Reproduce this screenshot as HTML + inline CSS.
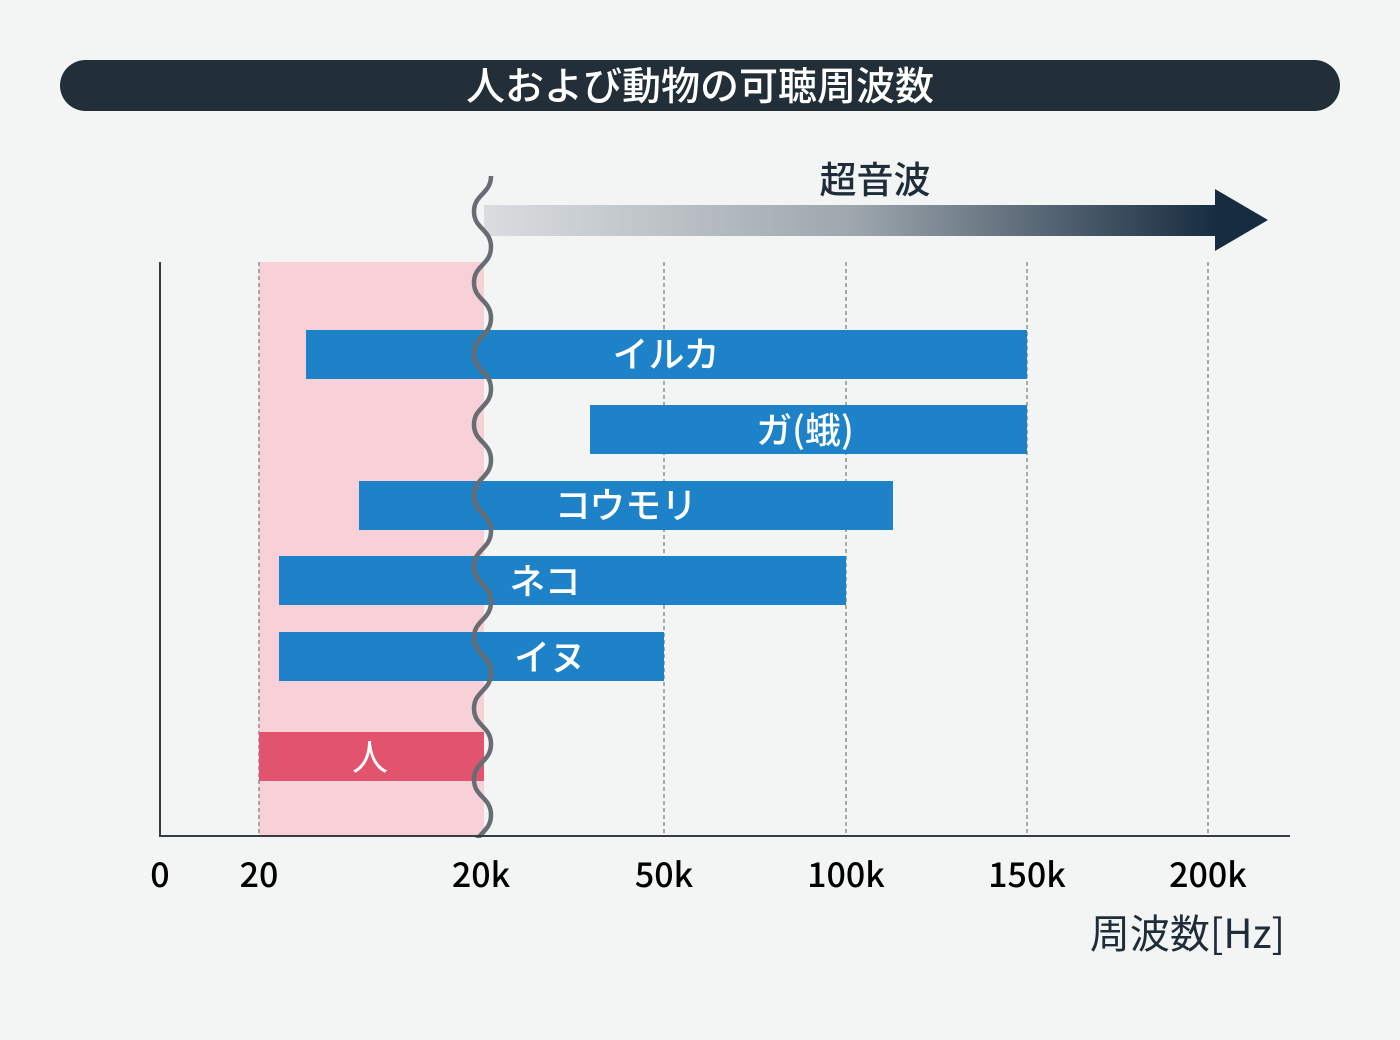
<!DOCTYPE html>
<html><head><meta charset="utf-8"><style>
body{margin:0;background:#f3f5f4;}
svg{display:block}
text{font-family:"Noto Sans CJK JP","Liberation Sans",sans-serif;}
</style></head><body>
<svg width="1400" height="1040" viewBox="0 0 1400 1040">
<defs>
<linearGradient id="g" x1="0" x2="1" y1="0" y2="0">
<stop offset="0" stop-color="#dadddf"/><stop offset="0.5" stop-color="#9ea7ae"/><stop offset="1" stop-color="#172c40"/>
</linearGradient>
<clipPath id="c"><rect x="440" y="176" width="100" height="662"/></clipPath>
</defs>
<rect width="1400" height="1040" fill="#f3f5f4"/>
<rect x="60" y="60" width="1280" height="51" rx="25.5" fill="#222f38"/>
<text x="700" y="100" text-anchor="middle" font-size="39" font-weight="500" fill="#fff">人および動物の可聴周波数</text>
<text x="875" y="193" text-anchor="middle" font-size="37" font-weight="500" fill="#1f2d3a">超音波</text>
<rect x="484" y="205" width="734" height="31" fill="url(#g)"/>
<polygon points="1215,189 1268,220 1215,251" fill="#172c40"/>
<rect x="259" y="262" width="225" height="574" fill="#f7d0d8"/>
<g stroke="#777" stroke-width="1.2" stroke-dasharray="4,3">
<line x1="259" y1="262" x2="259" y2="836"/><line x1="664" y1="262" x2="664" y2="836"/>
<line x1="846" y1="262" x2="846" y2="836"/><line x1="1027" y1="262" x2="1027" y2="836"/>
<line x1="1208" y1="262" x2="1208" y2="836"/>
</g>
<g fill="#1e82c9">
<rect x="306" y="330" width="721" height="49"/>
<rect x="590" y="405" width="437" height="49"/>
<rect x="359" y="481" width="534" height="49"/>
<rect x="279" y="556" width="567" height="49"/>
<rect x="279" y="632" width="385" height="49"/>
</g>
<rect x="259" y="732" width="225" height="49" fill="#e2546d"/>
<g fill="#fff" font-size="36" font-weight="500" text-anchor="middle">
<text x="666" y="367">イルカ</text>
<text x="805" y="443">ガ(蛾)</text>
<text x="626" y="518">コウモリ</text>
<text x="545" y="594">ネコ</text>
<text x="550" y="670">イヌ</text>
<text x="370" y="770" font-weight="normal">人</text>
</g>
<path clip-path="url(#c)" fill="none" stroke="#676d72" stroke-width="4.5" stroke-linecap="round" d="M491,176 C491,194 474,194 474,211.5 S491,229 491,247 S474,265 474,282.5 S491,300 491,318 S474,336 474,353.5 S491,371 491,389 S474,407 474,424.5 S491,442 491,460 S474,478 474,495.5 S491,513 491,531 S474,549 474,566.5 S491,584 491,602 S474,620 474,637.5 S491,655 491,673 S474,691 474,708.5 S491,726 491,744 S474,762 474,779.5 S491,797 491,815 S474,833 474,850.5"/>
<path d="M160,262 V836 H1290" fill="none" stroke="#333d44" stroke-width="2"/>
<g font-size="34" font-weight="500" fill="#000" text-anchor="middle">
<text x="160" y="887">0</text><text x="259" y="887">20</text><text x="481" y="887">20k</text>
<text x="664" y="887">50k</text><text x="846" y="887">100k</text><text x="1027" y="887">150k</text><text x="1208" y="887">200k</text>
</g>
<text x="1285" y="948" text-anchor="end" font-size="40" fill="#1f2d3a">周波数[Hz]</text>
</svg>
</body></html>
